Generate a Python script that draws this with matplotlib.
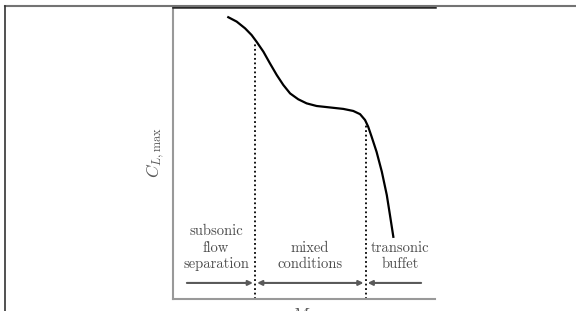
import matplotlib.pyplot as plt
from matplotlib.lines import Line2D

plt.rcParams['mathtext.fontset'] = 'cm'

# curve of C_L,max against Mach number (normalised axes)
mach = [0.211, 0.243, 0.275, 0.300, 0.319, 0.345, 0.370, 0.396, 0.421, 0.447,
        0.478, 0.510, 0.548, 0.599, 0.650, 0.688, 0.714, 0.733, 0.745, 0.758,
        0.777, 0.797, 0.816, 0.828, 0.841]
cl_max = [0.965, 0.950, 0.927, 0.904, 0.881, 0.847, 0.807, 0.767, 0.733, 0.704,
          0.684, 0.670, 0.661, 0.656, 0.651, 0.644, 0.633, 0.613, 0.590, 0.556,
          0.504, 0.436, 0.356, 0.288, 0.213]

# region boundaries and labels
bounds = [0.313, 0.735]
bound_tops = [0.877, 0.596]
regions = ['subsonic\nflow\nseparation', 'mixed\nconditions', 'transonic\nbuffet']
region_x = [0.164, 0.523, 0.866]
arrow_y = 0.055
arrow_start = 0.053
arrow_end = 0.947

W, H = 576, 311
fig = plt.figure(figsize=(W / 100, H / 100), dpi=100)

# outer frame of the screenshot
fig.add_artist(Line2D([5 / W, 1], [1 - 6 / H, 1 - 6 / H], color='0.45', lw=1.5))
fig.add_artist(Line2D([5 / W, 5 / W], [0, 1 - 6 / H], color='0.2', lw=1.2))

ax = fig.add_axes([173 / W, 12 / H, (435 - 173) / W, (299 - 7) / H])
ax.set_xlim(0, 1)
ax.set_ylim(0, 1)
ax.set_xticks([])
ax.set_yticks([])
ax.spines['right'].set_visible(False)
ax.spines['left'].set_color('0.6')
ax.spines['bottom'].set_color('0.6')
ax.spines['left'].set_linewidth(1.5)
ax.spines['bottom'].set_linewidth(1.5)
ax.spines['top'].set_color('0.15')
ax.spines['top'].set_linewidth(1.8)

ax.plot(mach, cl_max, color='black', lw=1.6, solid_joinstyle='round')

for b, t in zip(bounds, bound_tops):
    ax.plot([b, b], [0, t], color='black', lw=1.3, linestyle=(0, (1, 1.5)))

# arrows between regions
gap = 0.008
ax.annotate('', xy=(bounds[0] - gap, arrow_y), xytext=(arrow_start, arrow_y),
            arrowprops=dict(arrowstyle='-|>', color='0.35', lw=1.5,
                            mutation_scale=7, shrinkA=0, shrinkB=0))
ax.annotate('', xy=(bounds[1] - gap, arrow_y), xytext=(bounds[0] + gap, arrow_y),
            arrowprops=dict(arrowstyle='<|-|>', color='0.35', lw=1.5,
                            mutation_scale=7, shrinkA=0, shrinkB=0))
ax.annotate('', xy=(bounds[1] + gap, arrow_y), xytext=(arrow_end, arrow_y),
            arrowprops=dict(arrowstyle='-|>', color='0.35', lw=1.5,
                            mutation_scale=7, shrinkA=0, shrinkB=0))

for x, lab in zip(region_x, regions):
    ax.text(x, 0.095, lab, ha='center', va='bottom', fontsize=10.5,
            family='cmr10', color='0.3', linespacing=1.25, clip_on=True)

ax.set_ylabel(r'$C_{L,\max}$', fontsize=12.5, color='0.35', labelpad=4)
ax.text(0.5, -0.025, r'$Ma$', transform=ax.transAxes, ha='center', va='top',
        fontsize=12, color='0.35')

fig.savefig('out.png', dpi=100)
